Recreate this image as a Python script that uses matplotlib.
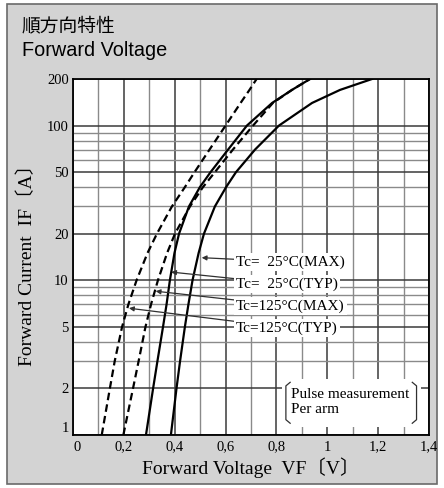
import matplotlib
matplotlib.use('Agg')
import matplotlib.pyplot as plt
from matplotlib.patches import Rectangle
from matplotlib.ticker import NullFormatter

plt.rcParams['font.family'] = ['Liberation Serif', 'Noto Sans CJK JP']

# forward current (A) at which the curves were read
i_f = [1, 2, 3, 5, 7, 10, 15, 20, 30, 40, 50, 70, 100, 140, 170, 200]

# forward voltage (V)
vf_125_typ = [0.113, 0.145, 0.164, 0.193, 0.218, 0.250, 0.293, 0.330, 0.389, 0.440, 0.478, 0.537, 0.600, 0.659, 0.694, 0.722]
vf_125_max = [0.198, 0.236, 0.258, 0.285, 0.307, 0.334, 0.370, 0.401, 0.460, 0.511, 0.558, 0.629, 0.708, 0.786, 0.861, 0.932]
vf_25_typ = [0.287, 0.315, 0.332, 0.354, 0.368, 0.381, 0.399, 0.417, 0.456, 0.499, 0.541, 0.610, 0.684, 0.783, 0.861, 0.932]
vf_25_max = [0.385, 0.407, 0.421, 0.440, 0.454, 0.470, 0.494, 0.515, 0.558, 0.602, 0.641, 0.716, 0.810, 0.940, 1.050, 1.176]

legend_labels = ['Tc=  25°C(MAX)', 'Tc=  25°C(TYP)', 'Tc=125°C(MAX)', 'Tc=125°C(TYP)']
# where each label's arrow touches its curve (V, A)
arrow_v = [0.506, 0.386, 0.325, 0.220]
arrow_i = [14.0, 11.3, 8.5, 6.6]

x_ticks = [0, 0.2, 0.4, 0.6, 0.8, 1.0, 1.2, 1.4]
x_tick_labels = ['0', '0,2', '0,4', '0,6', '0,8', '1', '1,2', '1,4']
x_minor = [0.1, 0.3, 0.5, 0.7, 0.9, 1.1, 1.3]
y_ticks = [1, 2, 5, 10, 20, 50, 100, 200]
y_tick_labels = ['1', '2', '5', '10', '20', '50', '100', '200']
y_minor = [3, 4, 6, 7, 8, 9, 30, 40, 60, 70, 80, 90]

fig = plt.figure(figsize=(4.44, 4.88), dpi=100, facecolor='white')
fig.add_artist(Rectangle((7/444, 4/488), 430/444, 480/488, transform=fig.transFigure,
                         fc='#d3d3d3', ec='#6a6a6a', lw=1.2, zorder=-5))

ax = fig.add_axes([73/444, 53/488, 356/444, 356/488])
ax.set_yscale('log')
ax.set_xlim(0, 1.4)
ax.set_ylim(1, 200)

ax.plot(vf_125_typ, i_f, color='black', lw=1.6, ls=(0, (3.4, 1.9)), zorder=4)
ax.plot(vf_125_max, i_f, color='black', lw=1.6, ls=(0, (3.4, 1.9)), zorder=4)
ax.plot(vf_25_typ, i_f, color='black', lw=1.6, zorder=4)
ax.plot(vf_25_max, i_f, color='black', lw=1.6, zorder=4)

ax.set_xticks(x_ticks)
ax.set_xticklabels(x_tick_labels)
ax.set_xticks(x_minor, minor=True)
ax.set_yticks(y_ticks)
ax.set_yticklabels(y_tick_labels)
ax.set_yticks(y_minor, minor=True)
ax.yaxis.set_minor_formatter(NullFormatter())
ax.tick_params(which='both', length=0, labelsize=10.5)
ax.tick_params(axis='x', pad=4)
ax.tick_params(axis='y', pad=3)
ax.get_xticklabels()[0].set_ha('left')
ax.get_yticklabels()[0].set_va('bottom')

ax.grid(which='major', color='#3a3a3a', lw=1.1, zorder=1)
ax.grid(which='minor', color='#8a8a8a', lw=1.0, zorder=1)
ax.set_axisbelow(True)
for s in ax.spines.values():
    s.set_linewidth(1.3)

# temperature labels with arrows
rows = [0.486, 0.424, 0.362, 0.301]
for lab, v, i, r in zip(legend_labels, arrow_v, arrow_i, rows):
    ax.annotate(lab, xy=(v, i), xycoords='data', xytext=(0.458, r), textcoords='axes fraction',
                ha='left', va='center', fontsize=11, zorder=6,
                bbox=dict(fc='white', ec='none', pad=1.5),
                arrowprops=dict(arrowstyle='-|>', color='#303030', lw=0.9,
                                mutation_scale=7, shrinkA=0, shrinkB=0))

# pulse measurement note
ax.add_patch(Rectangle((0.587, 0.022), 0.39, 0.135, transform=ax.transAxes,
                       fc='white', ec='none', zorder=5))
ax.text(0.612, 0.092, 'Pulse measurement\nPer arm', transform=ax.transAxes,
        ha='left', va='center', fontsize=11, linespacing=1.25, zorder=6)
ax.plot([0.61, 0.598, 0.598, 0.61], [0.148, 0.138, 0.043, 0.033], transform=ax.transAxes,
        color='#303030', lw=0.9, zorder=6)
ax.plot([0.953, 0.965, 0.965, 0.953], [0.148, 0.138, 0.043, 0.033], transform=ax.transAxes,
        color='#303030', lw=0.9, zorder=6)

fig.text(251/444, 1 - 468/488, 'Forward Voltage  VF〔V〕', ha='center', va='center', fontsize=14)
fig.text(27/444, 1 - 260/488, 'Forward Current  IF〔A〕', ha='center', va='center',
         rotation=90, fontsize=14)

fig.text(22/444, 1 - 26/488, '順方向特性', family='Noto Sans CJK JP', fontsize=13.5, va='center')
fig.text(22/444, 1 - 50/488, 'Forward Voltage', family='Liberation Sans', fontsize=14.3, va='center')

fig.savefig('out.png', dpi=100, facecolor=fig.get_facecolor())
